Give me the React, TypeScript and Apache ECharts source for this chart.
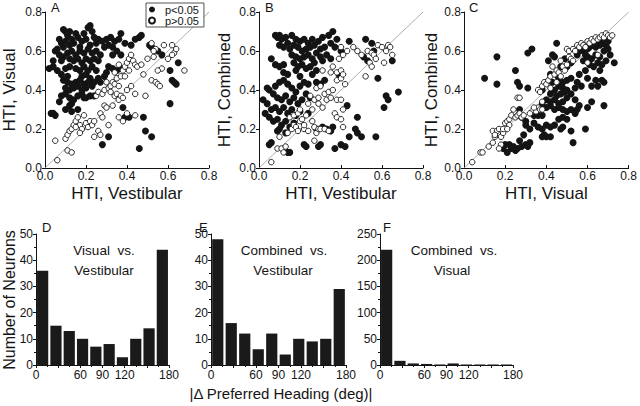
import React, { useEffect, useRef } from "react";
import * as echarts from "echarts";

// ---------- DATA ----------
// Panel A: HTI Vestibular (x) vs HTI Visual (y)
const aFilled: number[][] = [
  [0.09,0.71],[0.10,0.70],[0.12,0.70],[0.11,0.68],[0.21,0.72],[0.22,0.73],[0.23,0.70],[0.19,0.69],[0.15,0.69],[0.37,0.69],[0.46,0.67],[0.47,0.68],[0.44,0.66],
  [0.07,0.66],[0.08,0.64],[0.10,0.65],[0.13,0.66],[0.14,0.64],[0.16,0.67],[0.18,0.65],[0.20,0.66],[0.24,0.67],[0.26,0.66],[0.28,0.65],[0.30,0.66],[0.32,0.67],[0.34,0.65],[0.36,0.66],[0.25,0.64],[0.22,0.63],[0.17,0.62],[0.12,0.63],[0.09,0.62],[0.06,0.61],[0.29,0.62],[0.31,0.63],[0.33,0.62],[0.39,0.64],[0.42,0.63],[0.51,0.63],[0.52,0.62],
  [0.05,0.60],[0.07,0.58],[0.09,0.57],[0.11,0.59],[0.13,0.60],[0.15,0.58],[0.17,0.60],[0.19,0.59],[0.21,0.61],[0.23,0.59],[0.25,0.60],[0.27,0.58],[0.14,0.55],[0.16,0.56],[0.18,0.54],[0.20,0.56],[0.22,0.55],[0.24,0.56],[0.26,0.55],[0.12,0.56],[0.08,0.55],[0.04,0.55],[0.35,0.60],[0.37,0.58],[0.33,0.58],[0.55,0.60],[0.57,0.58],
  [0.02,0.51],[0.04,0.52],[0.06,0.50],[0.08,0.48],[0.10,0.51],[0.12,0.52],[0.15,0.51],[0.17,0.50],[0.19,0.52],[0.21,0.50],[0.23,0.52],[0.25,0.50],[0.18,0.47],[0.20,0.48],[0.26,0.46],[0.31,0.52],[0.33,0.51],[0.35,0.50],[0.37,0.51],[0.30,0.49],[0.65,0.54],[0.61,0.50],
  [0.09,0.45],[0.11,0.44],[0.13,0.43],[0.15,0.44],[0.17,0.45],[0.19,0.43],[0.21,0.44],[0.23,0.42],[0.10,0.41],[0.12,0.40],[0.14,0.41],[0.16,0.42],[0.18,0.40],[0.20,0.41],[0.22,0.46],[0.24,0.44],[0.27,0.44],[0.29,0.47],[0.62,0.45],[0.63,0.44],[0.64,0.43],[0.11,0.47],
  [0.08,0.37],[0.10,0.38],[0.12,0.36],[0.14,0.35],[0.16,0.37],[0.18,0.38],[0.20,0.36],[0.22,0.37],[0.07,0.34],[0.13,0.33],[0.19,0.36],[0.24,0.37],[0.61,0.33],
  [0.03,0.28],[0.04,0.28],[0.05,0.27],[0.10,0.30],[0.12,0.32],[0.13,0.29],[0.16,0.30],[0.38,0.31],[0.39,0.26],[0.41,0.26],[0.48,0.26],[0.31,0.16],[0.28,0.12],[0.49,0.19],[0.52,0.16],[0.46,0.10],
];
const aOpen: number[][] = [
  [0.06,0.04],[0.05,0.14],[0.10,0.15],[0.11,0.17],[0.12,0.19],[0.13,0.20],[0.14,0.22],[0.15,0.24],[0.16,0.26],[0.11,0.09],[0.13,0.08],[0.17,0.22],[0.18,0.20],[0.19,0.27],[0.20,0.23],[0.21,0.21],[0.22,0.24],[0.24,0.16],[0.26,0.19],[0.27,0.28],[0.28,0.26],[0.29,0.32],[0.30,0.31],
  [0.25,0.37],[0.26,0.39],[0.28,0.38],[0.29,0.40],[0.31,0.41],[0.32,0.42],[0.33,0.44],[0.34,0.43],[0.35,0.46],[0.36,0.42],[0.37,0.47],[0.38,0.50],[0.39,0.52],[0.40,0.54],[0.41,0.56],[0.42,0.58],[0.43,0.55],[0.44,0.53],[0.45,0.52],
  [0.34,0.37],[0.35,0.38],[0.36,0.35],[0.37,0.37],[0.38,0.36],[0.40,0.40],[0.42,0.42],[0.44,0.38],[0.48,0.48],[0.49,0.37],[0.40,0.28],[0.44,0.27],[0.36,0.26],[0.38,0.24],[0.33,0.32],[0.31,0.22],[0.27,0.17],[0.23,0.22],
  [0.52,0.45],[0.54,0.44],[0.55,0.43],[0.56,0.42],[0.57,0.51],[0.55,0.50],[0.53,0.57],[0.54,0.61],[0.52,0.64],[0.58,0.63],[0.60,0.56],[0.62,0.63],[0.63,0.59],[0.64,0.61],[0.62,0.58],[0.68,0.50],
  [0.30,0.44],[0.32,0.39],[0.34,0.49],[0.36,0.53],[0.41,0.50],[0.39,0.47],[0.17,0.18],[0.15,0.21],[0.24,0.24],[0.47,0.53],[0.50,0.56],[0.53,0.60],
];

// Panel B: HTI Vestibular (x) vs HTI Combined (y)
const bFilled: number[][] = [
  [0.08,0.68],[0.09,0.67],[0.10,0.68],[0.11,0.66],[0.13,0.67],[0.16,0.68],[0.18,0.66],[0.20,0.65],[0.22,0.66],[0.24,0.64],[0.26,0.66],[0.29,0.65],[0.31,0.67],[0.34,0.68],[0.36,0.70],[0.38,0.66],
  [0.10,0.63],[0.12,0.62],[0.14,0.64],[0.15,0.61],[0.17,0.63],[0.19,0.62],[0.21,0.60],[0.23,0.61],[0.25,0.62],[0.27,0.63],[0.30,0.61],[0.32,0.62],[0.35,0.64],[0.37,0.62],
  [0.16,0.58],[0.18,0.57],[0.20,0.56],[0.22,0.57],[0.24,0.58],[0.26,0.56],[0.28,0.59],[0.30,0.57],[0.33,0.58],[0.35,0.56],[0.06,0.56],[0.08,0.53],[0.10,0.52],[0.12,0.53],[0.17,0.54],[0.19,0.52],[0.21,0.53],[0.23,0.51],[0.25,0.52],[0.27,0.54],[0.31,0.55],
  [0.12,0.49],[0.14,0.48],[0.18,0.50],[0.20,0.47],[0.26,0.48],[0.28,0.50],[0.44,0.65],[0.52,0.66],[0.55,0.64],[0.40,0.60],[0.51,0.57],[0.53,0.55],[0.56,0.60],[0.65,0.55],
  [0.04,0.41],[0.05,0.40],[0.07,0.38],[0.08,0.42],[0.10,0.44],[0.12,0.45],[0.14,0.43],[0.16,0.41],[0.18,0.39],[0.20,0.42],[0.22,0.44],[0.24,0.43],[0.09,0.36],[0.11,0.35],[0.13,0.37],[0.15,0.34],[0.17,0.36],[0.19,0.33],[0.21,0.35],[0.23,0.38],[0.25,0.36],[0.28,0.44],[0.30,0.43],[0.32,0.45],
  [0.02,0.35],[0.04,0.33],[0.06,0.30],[0.08,0.31],[0.10,0.29],[0.12,0.31],[0.14,0.28],[0.16,0.30],[0.18,0.27],[0.20,0.29],[0.03,0.28],[0.05,0.26],[0.07,0.24],[0.09,0.25],[0.11,0.22],[0.13,0.24],[0.15,0.21],[0.17,0.23],[0.09,0.19],[0.10,0.20],[0.13,0.18],
  [0.05,0.12],[0.06,0.13],[0.14,0.08],[0.15,0.08],[0.22,0.12],[0.23,0.11],[0.29,0.11],[0.30,0.12],[0.33,0.20],[0.35,0.19],[0.37,0.10],[0.36,0.21],[0.40,0.12],[0.42,0.11],[0.44,0.16],[0.47,0.20],[0.48,0.18],[0.50,0.16],[0.57,0.16],
  [0.43,0.32],[0.48,0.26],[0.58,0.46],[0.61,0.31],[0.62,0.37],[0.63,0.35],[0.68,0.39],[0.39,0.48],[0.24,0.28],[0.28,0.20],[0.31,0.21],
];
const bOpen: number[][] = [
  [0.06,0.03],[0.09,0.10],[0.10,0.16],[0.11,0.10],[0.12,0.08],[0.13,0.11],[0.14,0.18],[0.16,0.20],[0.17,0.22],[0.18,0.21],[0.19,0.19],[0.20,0.24],[0.21,0.25],[0.15,0.26],[0.17,0.27],[0.19,0.28],
  [0.22,0.20],[0.24,0.19],[0.26,0.24],[0.27,0.21],[0.28,0.18],[0.29,0.20],[0.27,0.14],[0.30,0.20],[0.32,0.20],[0.34,0.19],[0.25,0.37],[0.27,0.35],[0.29,0.36],[0.24,0.33],[0.26,0.30],
  [0.28,0.41],[0.30,0.42],[0.32,0.38],[0.34,0.39],[0.36,0.40],[0.38,0.45],[0.40,0.46],[0.42,0.43],[0.33,0.35],[0.35,0.36],[0.37,0.28],[0.38,0.26],[0.38,0.35],[0.41,0.30],[0.40,0.25],[0.41,0.21],[0.40,0.35],
  [0.31,0.50],[0.35,0.49],[0.38,0.49],[0.40,0.50],[0.41,0.48],[0.36,0.52],[0.39,0.56],[0.40,0.62],[0.41,0.58],[0.43,0.60],[0.46,0.62],[0.48,0.60],[0.50,0.58],[0.52,0.47],[0.53,0.60],[0.55,0.59],[0.56,0.58],[0.57,0.56],[0.54,0.54],[0.55,0.52],
  [0.58,0.63],[0.60,0.62],[0.62,0.60],[0.63,0.63],[0.64,0.62],[0.65,0.58],[0.61,0.54],[0.20,0.30],[0.23,0.27],[0.22,0.22],[0.31,0.31],[0.29,0.33],
];

// Panel C: HTI Visual (x) vs HTI Combined (y)
const cFilled: number[][] = [
  [0.55,0.58],[0.56,0.60],[0.57,0.62],[0.58,0.60],[0.59,0.58],[0.60,0.61],[0.61,0.62],[0.62,0.63],[0.63,0.64],[0.64,0.62],[0.65,0.65],[0.66,0.63],[0.67,0.64],[0.68,0.66],[0.69,0.63],[0.70,0.65],
  [0.60,0.57],[0.62,0.56],[0.64,0.58],[0.66,0.57],[0.68,0.60],[0.70,0.61],[0.71,0.58],[0.61,0.53],[0.63,0.52],[0.65,0.54],[0.67,0.53],[0.69,0.55],[0.73,0.54],[0.58,0.55],[0.59,0.50],[0.66,0.50],
  [0.68,0.44],[0.67,0.45],[0.64,0.45],[0.62,0.42],[0.65,0.42],[0.60,0.46],[0.56,0.48],[0.55,0.44],[0.57,0.42],[0.62,0.34],[0.60,0.31],[0.68,0.32],[0.59,0.20],[0.53,0.13],
  [0.45,0.64],[0.43,0.58],[0.44,0.57],[0.49,0.56],[0.50,0.52],[0.52,0.54],[0.47,0.52],[0.45,0.48],[0.42,0.48],[0.40,0.44],[0.43,0.44],[0.46,0.46],[0.48,0.44],[0.50,0.45],[0.52,0.46],[0.54,0.41],
  [0.50,0.40],[0.48,0.41],[0.46,0.42],[0.44,0.40],[0.42,0.38],[0.40,0.35],[0.42,0.34],[0.44,0.35],[0.46,0.33],[0.48,0.34],[0.50,0.36],[0.52,0.38],[0.54,0.35],[0.56,0.32],[0.52,0.30],[0.50,0.29],
  [0.48,0.30],[0.46,0.31],[0.44,0.30],[0.42,0.32],[0.40,0.31],[0.38,0.33],[0.54,0.28],[0.55,0.30],[0.50,0.25],[0.48,0.26],[0.46,0.25],[0.44,0.22],[0.42,0.21],[0.40,0.22],[0.38,0.20],[0.36,0.21],
  [0.34,0.23],[0.32,0.20],[0.30,0.22],[0.36,0.27],[0.34,0.27],[0.38,0.27],[0.48,0.21],[0.47,0.20],[0.52,0.19],[0.42,0.16],[0.39,0.17],[0.38,0.16],[0.40,0.16],[0.30,0.24],[0.28,0.26],[0.29,0.17],
  [0.27,0.14],[0.26,0.10],[0.28,0.11],[0.30,0.12],[0.31,0.11],[0.32,0.13],[0.25,0.09],[0.21,0.08],[0.19,0.10],[0.20,0.12],[0.22,0.12],[0.24,0.11],[0.23,0.10],[0.45,0.37],[0.47,0.38],[0.49,0.39],
  [0.10,0.46],[0.16,0.43],[0.16,0.57],[0.25,0.50],[0.26,0.44],[0.27,0.42],[0.31,0.41],[0.31,0.59],[0.33,0.61],[0.27,0.30],[0.41,0.55],[0.38,0.40],
];
const cOpen: number[][] = [
  [0.04,0.03],[0.08,0.08],[0.09,0.08],[0.12,0.11],[0.14,0.13],[0.15,0.16],[0.14,0.19],[0.16,0.19],[0.17,0.20],[0.18,0.16],[0.19,0.18],[0.19,0.20],[0.18,0.12],[0.17,0.10],[0.20,0.23],[0.21,0.24],
  [0.22,0.25],[0.22,0.22],[0.23,0.27],[0.24,0.30],[0.25,0.26],[0.26,0.27],[0.27,0.28],[0.28,0.26],[0.29,0.27],[0.26,0.36],[0.27,0.36],[0.33,0.29],[0.35,0.29],[0.36,0.31],[0.37,0.30],[0.38,0.34],
  [0.36,0.40],[0.37,0.39],[0.38,0.42],[0.39,0.44],[0.40,0.43],[0.41,0.45],[0.42,0.41],[0.43,0.52],[0.42,0.47],[0.44,0.48],[0.45,0.50],[0.46,0.49],[0.47,0.55],[0.48,0.52],[0.49,0.50],[0.50,0.53],
  [0.51,0.57],[0.52,0.56],[0.53,0.55],[0.50,0.61],[0.51,0.60],[0.53,0.61],[0.54,0.60],[0.55,0.63],[0.56,0.62],[0.57,0.64],[0.58,0.63],[0.59,0.62],[0.60,0.65],[0.61,0.64],[0.62,0.66],[0.63,0.65],
  [0.64,0.67],[0.65,0.66],[0.66,0.67],[0.67,0.68],[0.68,0.67],[0.69,0.69],[0.70,0.68],[0.71,0.67],[0.72,0.68],[0.65,0.58],[0.60,0.54],[0.47,0.47],[0.45,0.44],[0.38,0.30],[0.34,0.31],[0.32,0.28],
  [0.21,0.20],[0.15,0.17],
];

// Histograms: |Δ preferred heading| in 18° bins
const binCenters = [9, 27, 45, 63, 81, 99, 117, 135, 153, 171];
const dCounts = [36, 15, 13, 10, 7, 8, 3, 10, 14, 44];
const eCounts = [48, 16, 12, 6, 12, 4, 10, 9, 10, 29];
const fCounts = [220, 8, 3, 2, 1, 3, 1, 1, 1, 1];
const headingTickLabels = ["0", "", "60", "90", "120", "", "180"];

const scatterTicks = ["0.0", "0.2", "0.4", "0.6", "0.8"];

const FONT = "'Liberation Sans', Arial, Helvetica, sans-serif";
const INK = "#141414";

export default function App() {
  const ref = useRef<HTMLDivElement>(null);
  useEffect(() => {
    if (!ref.current) return;
    const chart = echarts.init(ref.current, undefined, { renderer: "svg" });

    const scatterGrids = [
      { left: 44, top: 12, width: 165, height: 156 },
      { left: 259, top: 12, width: 164, height: 156 },
      { left: 464, top: 12, width: 165, height: 156 },
    ];
    const histGrids = [
      { left: 36, top: 234, width: 133, height: 131 },
      { left: 211, top: 234, width: 135, height: 131 },
      { left: 380, top: 234, width: 133, height: 131 },
    ];
    const grids = [...scatterGrids, ...histGrids];

    const xTitles = ["HTI, Vestibular", "HTI, Vestibular", "HTI, Visual"];
    const yTitles = ["HTI, Visual", "HTI, Combined", "HTI, Combined"];
    const yGaps = [27, 26, 24];

    const fmt = (v: number) => {
      const i = Math.round(v / 0.2);
      return scatterTicks[i] ?? v.toFixed(1);
    };

    const axisLine = { lineStyle: { color: INK, width: 1 } };
    const xAxes: any[] = [];
    const yAxes: any[] = [];
    for (let i = 0; i < 3; i++) {
      xAxes.push({
        gridIndex: i, type: "value", min: 0, max: 0.8, interval: 0.2,
        axisLine, splitLine: { show: false },
        axisTick: { inside: true, length: 3, lineStyle: { color: INK } },
        axisLabel: { formatter: fmt, color: INK, fontSize: 12, margin: 2, fontFamily: FONT },
        name: xTitles[i], nameLocation: "middle", nameGap: 17,
        nameTextStyle: { fontSize: 17, color: INK, fontFamily: FONT },
      });
      yAxes.push({
        gridIndex: i, type: "value", min: 0, max: 0.8, interval: 0.2,
        axisLine, splitLine: { show: false },
        axisTick: { inside: false, length: 3, lineStyle: { color: INK } },
        axisLabel: { formatter: fmt, color: INK, fontSize: 12, margin: 3, fontFamily: FONT },
        name: yTitles[i], nameLocation: "middle", nameGap: yGaps[i],
        nameTextStyle: { fontSize: 17, color: INK, fontFamily: FONT },
      });
    }
    const histMax = [50, 50, 250];
    const histInt = [10, 10, 50];
    for (let i = 0; i < 3; i++) {
      xAxes.push({
        gridIndex: 3 + i, type: "value", min: 0, max: 180, interval: 30,
        axisLine, splitLine: { show: false },
        axisTick: { length: 3, lineStyle: { color: INK } },
        minorTick: { show: true, splitNumber: 2, length: 2, lineStyle: { color: INK } },
        axisLabel: {
          formatter: (v: number) => headingTickLabels[Math.round(v / 30)] ?? "",
          color: INK, fontSize: 12, margin: 4, fontFamily: FONT,
        },
      });
      yAxes.push({
        gridIndex: 3 + i, type: "value", min: 0, max: histMax[i], interval: histInt[i],
        axisLine, splitLine: { show: false },
        axisTick: { length: 3, lineStyle: { color: INK } },
        minorTick: { show: true, splitNumber: 2, length: 2, lineStyle: { color: INK } },
        axisLabel: { color: INK, fontSize: 12, margin: 3, fontFamily: FONT },
      });
    }

    const filledSets = [aFilled, bFilled, cFilled];
    const openSets = [aOpen, bOpen, cOpen];
    const series: any[] = [];
    for (let i = 0; i < 3; i++) {
      series.push({
        type: "line", xAxisIndex: i, yAxisIndex: i, silent: true, symbol: "none",
        data: [[0, 0], [0.8, 0.8]], lineStyle: { color: "#9a9a9a", width: 0.8 }, z: 1,
      });
      series.push({
        type: "scatter", name: "p<0.05", xAxisIndex: i, yAxisIndex: i,
        data: filledSets[i], symbol: "circle", symbolSize: 7,
        itemStyle: { color: INK, opacity: 1 }, z: 2,
      });
      series.push({
        type: "scatter", name: "p>0.05", xAxisIndex: i, yAxisIndex: i,
        data: openSets[i], symbol: "circle", symbolSize: 5.5,
        itemStyle: { color: "#ffffff", borderColor: INK, borderWidth: 0.9, opacity: 1 }, z: 3,
      });
    }
    const counts = [dCounts, eCounts, fCounts];
    for (let i = 0; i < 3; i++) {
      series.push({
        type: "bar", xAxisIndex: 3 + i, yAxisIndex: 3 + i,
        data: binCenters.map((c, k) => [c, counts[i][k]]),
        barWidth: 11.2, itemStyle: { color: "#1a1a1a" },
      });
    }

    // texts are placed by the top of their box
    const txt = (x: number, y: number, text: string, size: number, align = "left") => ({
      type: "text", x, y,
      style: { text, fontSize: size, fontFamily: FONT, fill: INK, align },
    });

    chart.setOption({
      animation: false,
      backgroundColor: "#ffffff",
      textStyle: { fontFamily: FONT },
      grid: grids.map((g) => ({ ...g, containLabel: false })),
      xAxis: xAxes,
      yAxis: yAxes,
      legend: {
        data: [
          { name: "p<0.05", icon: "circle" },
          { name: "p>0.05", icon: "circle" },
        ],
        orient: "vertical", left: 146, top: 3,
        padding: [1, 5, 1, 2], itemGap: 0, itemWidth: 20, itemHeight: 6,
        borderColor: "#555", borderWidth: 1, backgroundColor: "#ffffff",
        textStyle: { fontSize: 11, color: INK, fontFamily: FONT, padding: [0, 0, 0, -2] },
        selectedMode: false,
      },
      graphic: [
        txt(51, 1, "A", 13),
        txt(265, 1, "B", 13),
        txt(469, 1, "C", 13),
        txt(42, 221, "D", 13),
        txt(199, 221, "E", 13),
        txt(383, 221, "F", 13),
        txt(104, 243, "Visual  vs.", 13.5, "center"),
        txt(104, 263, "Vestibular", 13.5, "center"),
        txt(284, 243, "Combined  vs.", 13.5, "center"),
        txt(283, 263, "Vestibular", 13.5, "center"),
        txt(454, 243, "Combined  vs.", 13.5, "center"),
        txt(452, 263, "Visual", 13.5, "center"),
        {
          type: "text", x: 1, y: 300, rotation: Math.PI / 2,
          style: { text: "Number of Neurons", fontSize: 16, fontFamily: FONT, fill: INK, align: "center" },
        },
        txt(281, 386, "|\u0394 Preferred Heading (deg)|", 15, "center"),
      ],
      series,
    });
    return () => chart.dispose();
  }, []);
  return (
    <div
      ref={ref}
      style={{ position: "fixed", left: 0, top: 0, width: 640, height: 406, background: "#fff" }}
    />
  );
}
